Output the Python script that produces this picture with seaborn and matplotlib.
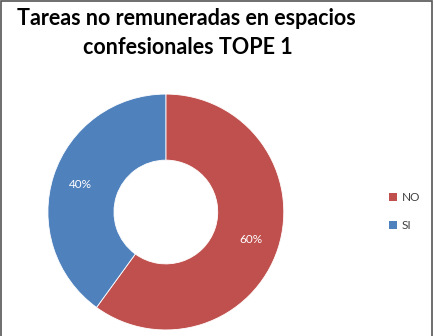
import matplotlib
matplotlib.use("Agg")
import matplotlib.pyplot as plt
import seaborn as sns
from matplotlib.patches import Rectangle, Patch

sns.set_style("white")
plt.rcParams['font.family'] = ['Lato', 'DejaVu Sans']

categories = ["NO", "SI"]
values = [60, 40]
colors = ["#C0504D", "#4F81BD"]
title_lines = ["Tareas no remuneradas en espacios", "confesionales TOPE 1"]

fig = plt.figure(figsize=(4.35, 3.36), dpi=100)
ax = fig.add_axes([0.110, 0.018, 0.5425, 0.702])
wedges, texts, autotexts = ax.pie(
    values, colors=colors, startangle=90, counterclock=False,
    autopct="%d%%", pctdistance=0.76,
    wedgeprops=dict(width=0.56, edgecolor="white", linewidth=0.6),
    textprops=dict(color="white", fontsize=8.5))
ax.set_aspect("equal")
ax.set_xlim(-1.0, 1.0)
ax.set_ylim(-1.0, 1.0)

fig.text(0.038, 0.975, title_lines[0], fontsize=15.5,
         fontweight="bold", ha="left", va="top", color="black")
fig.text(0.432, 0.89, title_lines[1], fontsize=15.5,
         fontweight="bold", ha="center", va="top", color="black")

handles = [Patch(facecolor=c, edgecolor="none") for c in colors]
leg = fig.legend(handles, categories, loc="center left",
                 bbox_to_anchor=(0.87, 0.37), frameon=False, fontsize=8.5,
                 handlelength=0.7, handleheight=0.7, handletextpad=0.4,
                 labelspacing=1.4)
for t in leg.get_texts():
    t.set_color("#404040")

fig.patches.append(Rectangle((0.003, -0.05), 0.99, 1.047, transform=fig.transFigure,
                             fill=False, edgecolor="#555555", linewidth=1.2))
fig.savefig("out.png", dpi=100)
